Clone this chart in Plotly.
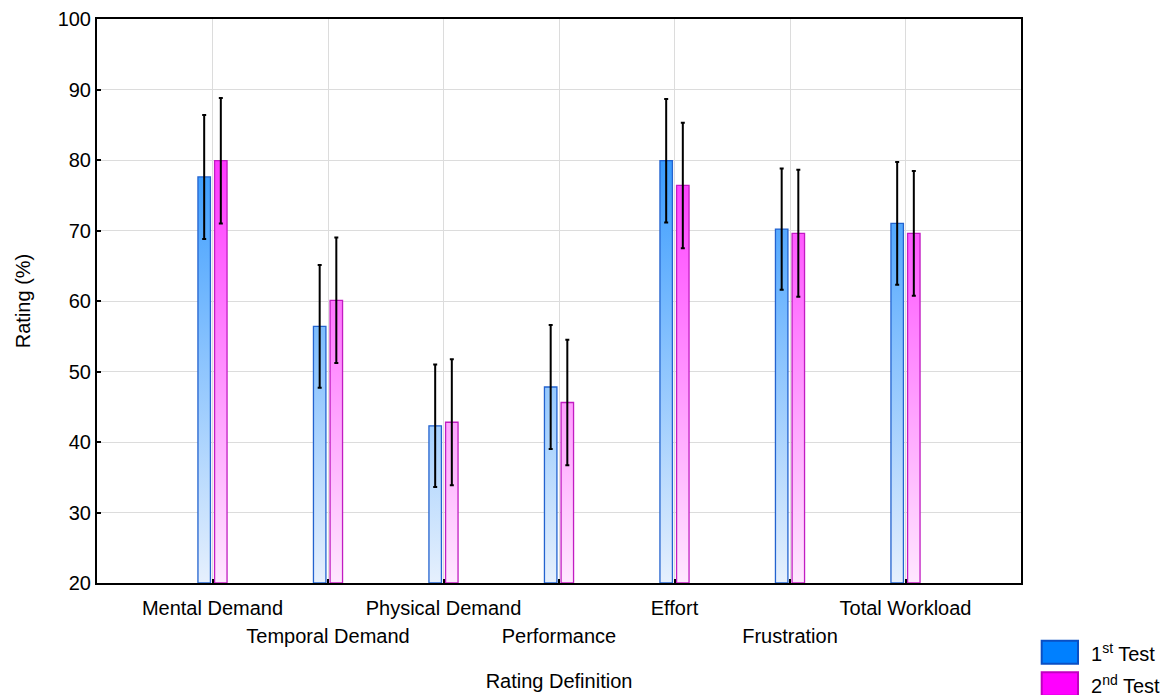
import plotly.graph_objects as go

categories = ["Mental Demand", "Temporal Demand", "Physical Demand", "Performance",
              "Effort", "Frustration", "Total Workload"]
test1 = [77.6, 56.4, 42.3, 47.8, 79.9, 70.2, 71.0]
test1_err = [8.8, 8.7, 8.7, 8.8, 8.75, 8.6, 8.7]
test2 = [79.9, 60.1, 42.8, 45.6, 76.4, 69.6, 69.6]
test2_err = [8.9, 8.9, 8.95, 8.9, 8.9, 9.0, 8.85]
series_names = ["1<sup>st</sup> Test", "2<sup>nd</sup> Test"]
y_ticks = [20, 30, 40, 50, 60, 70, 80, 90, 100]

Y_MIN, Y_MAX = 20, 100
BAR_W = 0.108
GAP = 0.036
FONT = "Liberation Sans, Arial, sans-serif"

styles = [
    dict(offset=-(BAR_W + GAP) / 2, edge="#2363cf", top="#0080ff", bottom="#e6f0fd",
         legfill="#0080ff", legedge="#0a4fc4"),
    dict(offset=(BAR_W + GAP) / 2, edge="#c21cc2", top="#ff00ff", bottom="#ffe8ff",
         legfill="#ff00ff", legedge="#c000c0"),
]

fig = go.Figure()
for vals, errs, st in zip([test1, test2], [test1_err, test2_err], styles):
    xs, ys, cx = [], [], []
    for i, v in enumerate(vals):
        c = i + 1 + st["offset"]
        x0, x1 = c - BAR_W / 2, c + BAR_W / 2
        xs += [x0, x0, x1, x1, x0, None]
        ys += [Y_MIN, v, v, Y_MIN, Y_MIN, None]
        cx.append(c)
    fig.add_trace(go.Scatter(
        x=xs, y=ys, mode="lines", fill="toself",
        fillgradient=dict(type="vertical", start=Y_MIN, stop=Y_MAX,
                          colorscale=[[0, st["bottom"]], [1, st["top"]]]),
        line=dict(color=st["edge"], width=1.3), showlegend=False, hoverinfo="skip"))
    # error bars drawn on the overlaid x2 axis (identical range) so that axis is rendered
    fig.add_trace(go.Scatter(
        x=cx, y=vals, mode="markers", marker=dict(size=1, opacity=0),
        xaxis="x2", yaxis="y",
        error_y=dict(type="data", array=errs, color="black", thickness=2, width=2),
        showlegend=False))

shapes, annos = [], []
leg_y = [(-0.1023, -0.143), (-0.1584, -0.2)]
for (y1, y0), st, name in zip(leg_y, styles, series_names):
    shapes.append(dict(type="rect", xref="paper", yref="paper", x0=1.0224, x1=1.0617,
                       y0=y0, y1=y1, fillcolor=st["legfill"],
                       line=dict(color=st["legedge"], width=2)))
    annos.append(dict(xref="paper", yref="paper", x=1.0735, y=(y0 + y1) / 2,
                      xanchor="left", yanchor="middle", text=name, showarrow=False,
                      font=dict(size=20, color="black", family=FONT)))

positions = list(range(1, len(categories) + 1))
row1_text = [c if i % 2 == 0 else "" for i, c in enumerate(categories)]
row2_vals = [p for i, p in enumerate(positions) if i % 2 == 1]
row2_text = [c for i, c in enumerate(categories) if i % 2 == 1]

fig.update_layout(
    width=1171, height=695,
    margin=dict(l=97, r=150, t=19, b=112),
    paper_bgcolor="white", plot_bgcolor="white",
    font=dict(family=FONT, size=20, color="black"),
    shapes=shapes, annotations=annos,
    xaxis=dict(range=[0, 8], tickvals=positions, ticktext=row1_text,
               tickangle=0, automargin=False, ticklabelstandoff=6,
               showgrid=True, gridcolor="#dcdcdc", gridwidth=1,
               ticks="inside", ticklen=4, tickwidth=2, tickcolor="black",
               showline=True, linecolor="black", linewidth=2, mirror=True,
               zeroline=False,
               title=dict(text="Rating Definition", standoff=56,
                          font=dict(size=20, family=FONT))),
    xaxis2=dict(range=[0, 8], overlaying="x", anchor="y", side="bottom",
                tickvals=row2_vals, ticktext=row2_text, tickangle=0,
                automargin=False, ticklabelstandoff=39, ticks="",
                showgrid=False, showline=False, zeroline=False),
    yaxis=dict(range=[Y_MIN, Y_MAX], tickvals=y_ticks, automargin=False,
               showgrid=True, gridcolor="#dcdcdc", gridwidth=1,
               ticks="inside", ticklen=4, tickwidth=2, tickcolor="black",
               showline=True, linecolor="black", linewidth=2, mirror=True,
               zeroline=False,
               title=dict(text="Rating (%)", standoff=22,
                          font=dict(size=20, family=FONT))),
)

fig.write_html("out.html")
